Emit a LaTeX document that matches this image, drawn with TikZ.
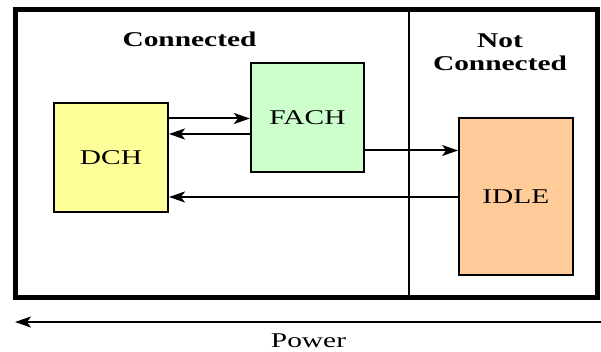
\documentclass[tikz,border=0pt]{standalone}
\usepackage{fontspec}
\setmainfont{Liberation Serif}[FakeStretch=1.4]
\usetikzlibrary{arrows.meta}
\definecolor{dchyellow}{HTML}{FFFF99}
\definecolor{fachgreen}{HTML}{CCFFCC}
\definecolor{idleorange}{HTML}{FFCC99}
\tikzset{
  statebox/.style={draw=black, line width=2pt, inner sep=0pt, font=\fontsize{21}{24}\selectfont},
  lbl/.style={inner sep=0pt, anchor=base, font=\fontsize{21}{24}\selectfont},
  hdr/.style={lbl, font=\fontsize{21}{24}\selectfont\bfseries, align=center},
  conn/.style={line width=2pt, -{Stealth[length=16pt,width=11pt,inset=4pt]}},
}
\begin{document}
\begin{tikzpicture}[x=1pt,y=-1pt]
\useasboundingbox (0,0) rectangle (601,352);
% outer frame and divider
\draw[line width=5pt] (15,9.5) rectangle (597,297.5);
\draw[line width=2.2pt] (409,9.5) -- (409,297.5);
% headers
\node[hdr] (hconn) at (189.5,47) {Connected};
\node[hdr] (hnot) at (500,71) {Not\\[-0.5pt]Connected};
% states
\node[statebox, fill=dchyellow, minimum width=114pt, minimum height=109pt] (dch) at (111,157.2) {DCH};
\node[statebox, fill=fachgreen, minimum width=113pt, minimum height=109pt] (fach) at (307.4,118) {FACH};
\node[statebox, fill=idleorange, minimum width=113.5pt, minimum height=156.5pt] (idle) at (515.8,196.7) {IDLE};
% transitions
\draw[conn] (dch.east |- 0,118.5) -- (fach.west |- 0,118.5);
\draw[conn] (fach.west |- 0,134) -- (dch.east |- 0,134);
\draw[conn] (fach.east |- 0,150.5) -- (idle.west |- 0,150.5);
\draw[conn] (idle.west |- 0,197) -- (dch.east |- 0,197);
% power axis
\coordinate (pstart) at (601,322);
\coordinate (pend) at (15,322);
\draw[conn] (pstart) -- (pend);
\node[lbl] (power) at (308.5,347.5) {Power};
\end{tikzpicture}
\end{document}
